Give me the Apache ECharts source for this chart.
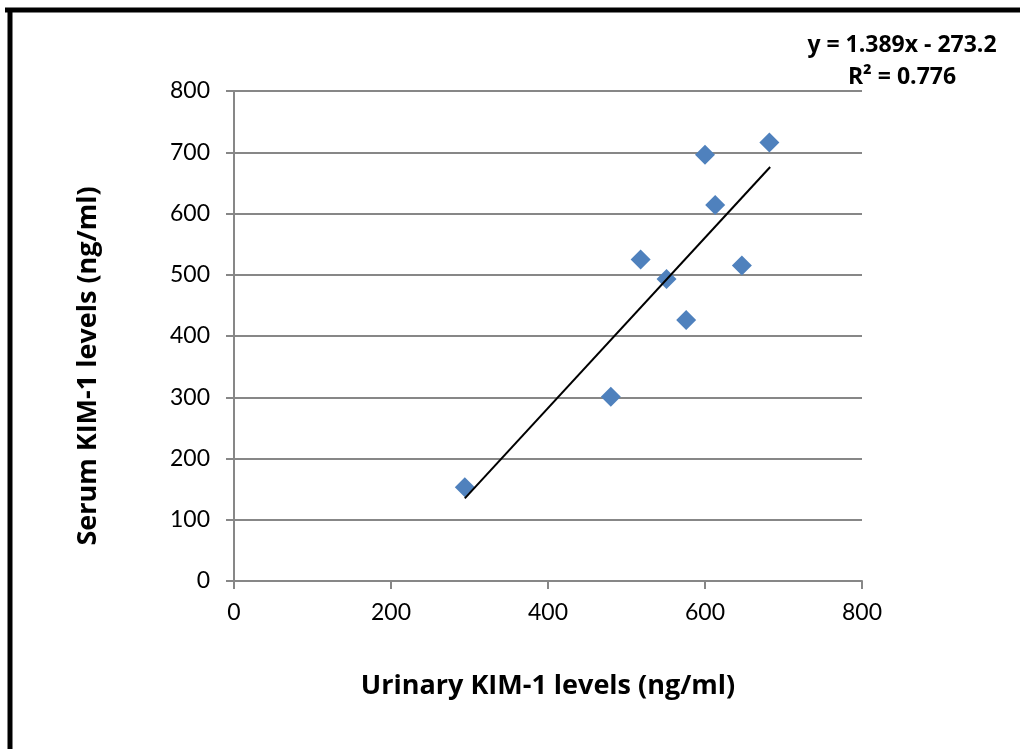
<!DOCTYPE html>
<html>
<head>
<meta charset="utf-8">
<script src="https://cdn.jsdelivr.net/npm/echarts@6/dist/echarts.min.js"></script>
<style>
  html, body { margin: 0; padding: 0; background: #fff; }
  #chart { width: 1020px; height: 749px; }
</style>
</head>
<body>
<div id="chart"></div>
<script>
// urinary vs serum KIM-1 (ng/ml)
var urinary = [294, 480, 518, 551, 576, 600, 613, 647, 682];
var serum   = [153, 301, 525, 493, 426, 696, 614, 515, 716];
// trendline end points (as drawn)
var trendX = [294, 683];
var trendY = [135, 676];
var xTicks = [0, 200, 400, 600, 800];
var yTicks = [0, 100, 200, 300, 400, 500, 600, 700, 800];
var eqText = ['y = 1.389x - 273.2', 'R\u00b2 = 0.776'];
var yTitle = 'Serum KIM-1 levels (ng/ml)';

var points = [];
for (var i = 0; i < urinary.length; i++) {
    points.push([urinary[i], serum[i]]);
}
var trend = [];
for (var j = 0; j < trendX.length; j++) {
    trend.push([trendX[j], trendY[j]]);
}

var font = 'Lato, "Open Sans", sans-serif';
var boldFont = '"Open Sans", Lato, sans-serif';
var gray = '#878787';

var myChart = echarts.init(document.getElementById('chart'));
var option = {
    backgroundColor: '#fff',
    animation: false,
    grid: { left: 234, right: 158, top: 91, bottom: 168 },
    xAxis: {
        type: 'value',
        min: xTicks[0],
        max: xTicks[xTicks.length - 1],
        interval: xTicks[1] - xTicks[0],
        name: 'Urinary KIM-1 levels (ng/ml)',
        nameLocation: 'middle',
        nameGap: 92,
        nameTextStyle: { fontFamily: boldFont, fontWeight: 'bold', fontSize: 27, color: '#000' },
        axisLine: { show: true, lineStyle: { color: gray, width: 2 } },
        axisTick: { show: true, length: 8, lineStyle: { color: gray, width: 2 } },
        axisLabel: { fontFamily: font, fontSize: 23, color: '#000', margin: 20 },
        splitLine: { show: false }
    },
    yAxis: {
        type: 'value',
        min: yTicks[0],
        max: yTicks[yTicks.length - 1],
        interval: yTicks[1] - yTicks[0],
        axisLine: { show: true, lineStyle: { color: gray, width: 2 } },
        axisTick: { show: true, length: 8, lineStyle: { color: gray, width: 2 } },
        axisLabel: { fontFamily: font, fontSize: 23, color: '#000', margin: 24 },
        splitLine: { show: true, lineStyle: { color: gray, width: 2 } }
    },
    graphic: [
        // outer frame (top and left edges visible)
        { type: 'line', shape: { x1: 5, y1: 10, x2: 1020, y2: 10 }, style: { stroke: '#000', lineWidth: 5 } },
        { type: 'line', shape: { x1: 10, y1: 8, x2: 10, y2: 749 }, style: { stroke: '#000', lineWidth: 5 } },
        {
            type: 'text', x: 88, y: 366, rotation: Math.PI / 2,
            style: { text: yTitle, align: 'center', verticalAlign: 'middle',
                fontFamily: boldFont, fontWeight: 'bold', fontSize: 27, fill: '#000' }
        },
        {
            type: 'text',
            style: { text: eqText[0], x: 902, y: 45, align: 'center', verticalAlign: 'middle',
                fontFamily: boldFont, fontWeight: 'bold', fontSize: 23, fill: '#000' }
        },
        {
            type: 'text',
            style: { text: eqText[1], x: 902, y: 77, align: 'center', verticalAlign: 'middle',
                fontFamily: boldFont, fontWeight: 'bold', fontSize: 23, fill: '#000' }
        }
    ],
    series: [
        {
            name: 'KIM-1',
            type: 'scatter',
            symbol: 'diamond',
            symbolSize: 20,
            itemStyle: { color: '#4F81BD', opacity: 1 },
            data: points,
            z: 2
        },
        {
            name: 'trend',
            type: 'line',
            symbol: 'none',
            lineStyle: { color: '#000', width: 2 },
            data: trend,
            z: 3
        }
    ]
};
myChart.setOption(option);
</script>
</body>
</html>
